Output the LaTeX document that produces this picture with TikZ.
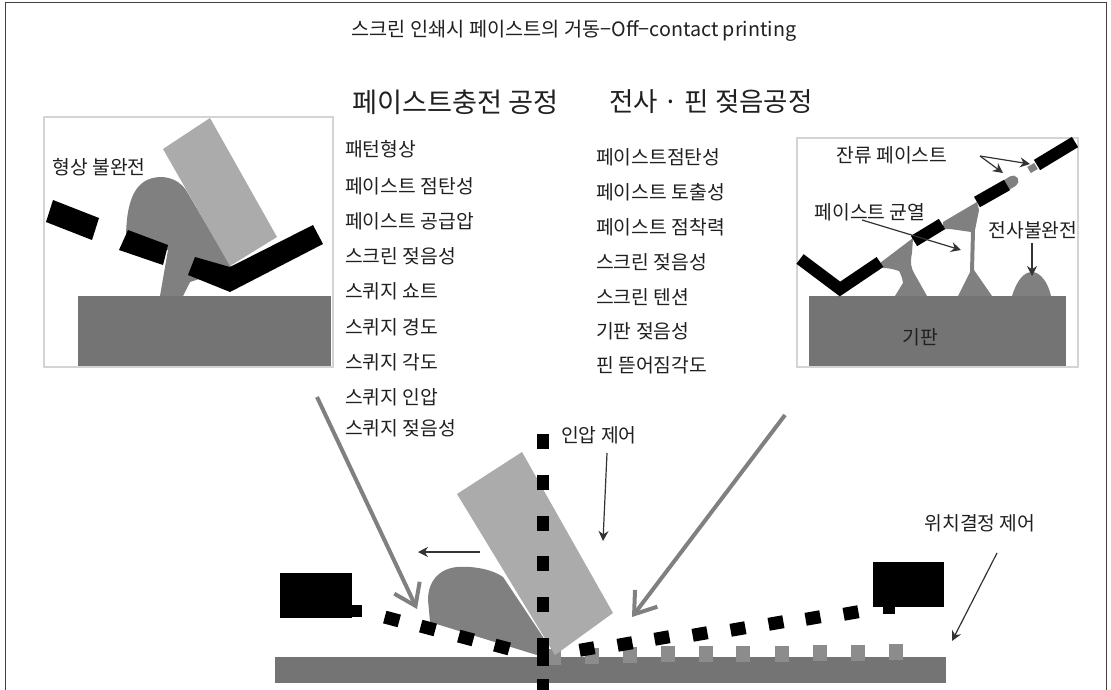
\documentclass[tikz,border=0pt]{standalone}
\usepackage{fontspec}
\setmainfont{Noto Sans CJK KR}
\usetikzlibrary{arrows.meta}
\definecolor{basegray}{HTML}{747474}
\definecolor{pastegray}{HTML}{808080}
\definecolor{bladegray}{HTML}{ABABAB}
\definecolor{padgray}{HTML}{8C8C8C}
\definecolor{panelline}{HTML}{D4D4D4}
\definecolor{inkgray}{HTML}{202020}
\tikzset{
  frameline/.style={draw=black!75,line width=1pt},
  panel/.style={draw=panelline,line width=1.4pt,fill=white},
  base/.style={fill=basegray},
  paste/.style={fill=pastegray},
  blade/.style={fill=bladegray},
  mesh/.style={fill=black},
  meshline/.style={draw=black,line width=12pt},
  label/.style={font=\fontsize{19.3pt}{22pt}\selectfont,text=inkgray,inner sep=0pt},
  listitem/.style={label,anchor=west},
  heading/.style={label,font=\fontsize{26.5pt}{30pt}\selectfont,anchor=west},
  bigarrow/.style={draw=pastegray,line width=4pt,-{Straight Barb[length=20pt,width=28pt,line width=4pt]}},
  thinarrow/.style={draw=black!80,line width=1.2pt,-{Stealth[length=10pt,width=10pt]}},
  meshdot/.style={fill=black,minimum width=15pt,minimum height=13pt,inner sep=0pt},
  meshdotv/.style={fill=black,minimum width=12.5pt,minimum height=15pt,inner sep=0pt},
  pad/.style={fill=padgray,minimum width=14pt,minimum height=16pt,inner sep=0pt}
}
\begin{document}
\begin{tikzpicture}[x=1pt,y=-1pt]
\useasboundingbox (0,0) rectangle (1111,690);
\fill[white] (0,0) rectangle (1111,690);

% outer frame, open at the bottom
\draw[frameline] (5,690) -- (5,2.5) -- (1106.5,2.5) -- (1106.5,690);

% title and column headings
\node[label,anchor=center,font=\fontsize{19.7pt}{22pt}\selectfont] (title) at (574,31) {스크린 인쇄시 페이스트의 거동−Off−contact printing};
\node[heading,font=\fontsize{27.2pt}{30pt}\selectfont] (headfill) at (352,102) {페이스트충전 공정};
\node[heading] (headtrans) at (609,102) {전사 · 핀 젖음공정};

% filling process parameters
\node[listitem] (fa) at (345,149) {패턴형상};
\node[listitem] (fb) at (345,186) {페이스트 점탄성};
\node[listitem] (fc) at (345,221) {페이스트 공급압};
\node[listitem] (fd) at (345,256) {스크린 젖음성};
\node[listitem] (fe) at (345,291) {스퀴지 쇼트};
\node[listitem] (ff) at (345,327) {스퀴지 경도};
\node[listitem] (fg) at (345,362) {스퀴지 각도};
\node[listitem] (fh) at (345,397) {스퀴지 인압};
\node[listitem] (fi) at (345,428) {스퀴지 젖음성};

% transfer process parameters
\node[listitem] (ta) at (596,157) {페이스트점탄성};
\node[listitem] (tb) at (596,192) {페이스트 토출성};
\node[listitem] (tc) at (596,227) {페이스트 점착력};
\node[listitem] (td) at (596,262) {스크린 젖음성};
\node[listitem] (te) at (596,297) {스크린 텐션};
\node[listitem] (tf) at (596,331) {기판 젖음성};
\node[listitem] (tg) at (596,365) {핀 뜯어짐각도};

% left panel: incomplete fill
\draw[panel] (44,117) rectangle (333,367);
\fill[base] (78,296) rectangle (331,366);
\fill[paste] (126,240) .. controls (126,200) and (135,178) .. (160,177)
  .. controls (172,177) and (180,182) .. (186,190) -- (232,268) -- (190,282)
  -- (183,296) -- (160,296) -- (168,250) -- cycle;
\fill[blade] (210,118) -- (163,149) -- (230,266) -- (277,237) -- cycle;
\fill[mesh] (53,200) -- (99,218) -- (92,240) -- (46,222) -- cycle;
\fill[mesh] (128,230) -- (168,245) -- (163,265) -- (119,250) -- cycle;
\fill[mesh] (195,257) -- (230,267) -- (313,225) -- (323,244) -- (230,292) -- (188,275) -- cycle;
\node[label] (lshape) at (99,167) {형상 불완전};

% right panel: transfer and release
\draw[panel] (797,138) rectangle (1078,367);
\fill[base] (809,296) rectangle (1066,366);
% paste bridges between screen and substrate
\fill[paste] (880,263) -- (913,238) -- (912,253) .. controls (910,262) and (911,268) .. (914,273)
  -- (927,296) -- (895,296) -- (903,283) .. controls (902,276) and (900,273) .. (899,271)
  .. controls (893,269) and (888,268) .. (883,268) -- cycle;
\fill[paste] (943,222) -- (977,202) -- (979,210) -- (975,230) -- (974,270) -- (992,296) -- (958,296)
  -- (970,272) -- (971,232) -- (950,229) -- (943,229) -- cycle;
\fill[paste] (1012,296) .. controls (1017,280) and (1024,272) .. (1032,272)
  .. controls (1040,272) and (1048,282) .. (1051,296) -- cycle;
\draw[draw=pastegray,line width=11pt,line cap=round] (1000,189) -- (1013,181);
\draw[draw=pastegray,line width=7pt] (1029,170) -- (1036,166);
% broken screen segments
\draw[meshline] (800,259) -- (840,289) -- (880,262);
\draw[meshline] (914,241) -- (942,224);
\draw[meshline] (977,202) -- (1007,185);
\draw[meshline] (1037,165) -- (1075,142);
\node[label] (lresidue) at (892,155) {잔류 페이스트};
\node[label] (lcrack) at (870,212) {페이스트 균열};
\node[label] (ltrans) at (1033,230) {전사불완전};
\node[label] (lsub) at (920,337) {기판};
\coordinate (residueA) at (980,156);
\coordinate (residueB) at (1030,164);
\coordinate (residueC) at (1003,173);
\coordinate (crackA) at (862,220);
\coordinate (crackB) at (961,250);
\coordinate (transA) at (1032,243);
\coordinate (transB) at (1032,276);
\draw[thinarrow] (residueA) -- (residueB);
\draw[thinarrow] (residueA) -- (residueC);
\draw[thinarrow] (crackA) -- (crackB);
\draw[thinarrow] (transA) -- (transB);

% bottom scene: substrate, pads, squeegee, paste
\fill[base] (275,657) rectangle (946,683);
\foreach \n/\x/\y in {1/554/657,2/592/656,3/630/655,4/668/654,5/706/654,6/743/654,7/782/654,8/820/653,9/858/653,10/896/652}
  \node[pad] (pad\n) at (\x,\y) {};
\fill[paste] (503,577) .. controls (490,568) and (470,566) .. (457,567)
  .. controls (438,569) and (428,582) .. (428,600) -- (430,622) -- (540,656) -- (545,640) -- cycle;
\fill[blade] (522,452) -- (457,494) -- (555,655) -- (613,613) -- cycle;

% screen mesh on either side of the squeegee
\fill[mesh] (280,573) rectangle (352,618);
\fill[mesh] (352,605) rectangle (362,617);
\foreach \n/\x/\y in {1/392/619,2/428/628,3/466/638,4/502/647}
  \node[meshdot,rotate=-15] (ml\n) at (\x,\y) {};
\foreach \n/\x/\y in {1/587/649,2/625/644,3/662/638,4/700/634,5/738/629,6/776/623,7/813/618,8/851/613}
  \node[meshdot,rotate=10] (mr\n) at (\x,\y) {};
\fill[mesh] (873,562) rectangle (944,607);
\fill[mesh] (883,607) rectangle (895,614);

% vertical pressure axis
\foreach \n/\y in {1/441,2/482,3/523,4/563,5/604,6/645,7/658,8/686}
  \node[meshdotv] (axis\n) at (543,\y) {};

% process arrows
\coordinate (fillA) at (317,397);
\coordinate (fillB) at (417,609);
\coordinate (transferA) at (785,415);
\coordinate (transferB) at (632,617);
\draw[bigarrow] (fillA) -- (fillB);
\draw[bigarrow] (transferA) -- (transferB);

\node[label,anchor=west] (lpress) at (561,435) {인압 제어};
\node[label] (lpos) at (980,523) {위치결정 제어};
\coordinate (pressA) at (607,453);
\coordinate (pressB) at (603,541);
\coordinate (moveA) at (480,552);
\coordinate (moveB) at (418,552);
\coordinate (posA) at (997,553);
\coordinate (posB) at (952,641);
\draw[thinarrow] (pressA) -- (pressB);
\draw[thinarrow] (moveA) -- (moveB);
\draw[thinarrow] (posA) -- (posB);
\end{tikzpicture}
\end{document}
